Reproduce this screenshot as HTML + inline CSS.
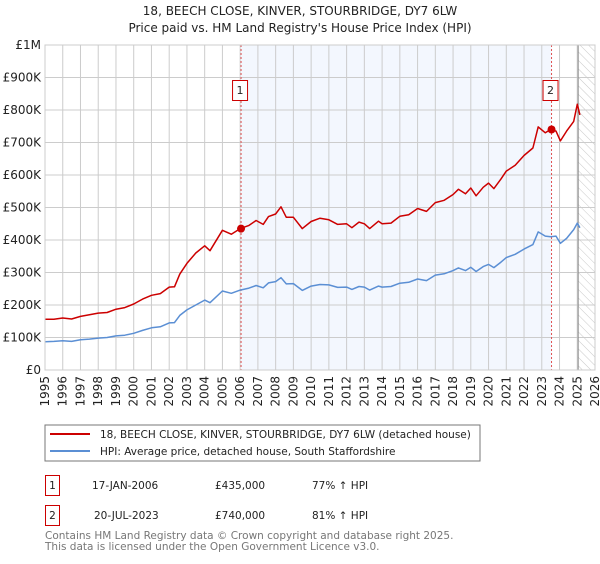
<!DOCTYPE html>
<html><head><meta charset="utf-8"><style>
body{margin:0;background:#fff;font-family:"DejaVu Sans","Liberation Sans",sans-serif;}
svg text{font-family:"DejaVu Sans","Liberation Sans",sans-serif;}
</style></head><body>
<svg id="chart" width="600" height="560" viewBox="0 0 600 560" xmlns="http://www.w3.org/2000/svg">
<defs><pattern id="hatch" width="6" height="6" patternUnits="userSpaceOnUse" patternTransform="rotate(-45)"><line x1="0" y1="0" x2="0" y2="6" stroke="#bbb" stroke-width="0.8"/></pattern></defs>
<text x="300" y="15" text-anchor="middle" font-size="12" fill="#222">18, BEECH CLOSE, KINVER, STOURBRIDGE, DY7 6LW</text>
<text x="300" y="32" text-anchor="middle" font-size="12" fill="#222">Price paid vs. HM Land Registry's House Price Index (HPI)</text>
<g id="plot"></g>
<rect x="45" y="425" width="435" height="36" fill="#fff" stroke="#777"/>
<line x1="50" y1="434" x2="90" y2="434" stroke="#cc0000" stroke-width="2"/>
<text x="100" y="438" font-size="10.5" fill="#222">18, BEECH CLOSE, KINVER, STOURBRIDGE, DY7 6LW (detached house)</text>
<line x1="50" y1="451" x2="90" y2="451" stroke="#5b8fd4" stroke-width="2"/>
<text x="100" y="455" font-size="10.5" fill="#222">HPI: Average price, detached house, South Staffordshire</text>
<g>
<rect x="45.5" y="475.5" width="14" height="20" fill="none" stroke="#cc0000"/>
<text x="52.5" y="489" text-anchor="middle" font-size="10.5" fill="#222">1</text>
<text x="92" y="489" font-size="10.5" fill="#222">17-JAN-2006</text>
<text x="215" y="489" font-size="10.5" fill="#222">£435,000</text>
<text x="312" y="489" font-size="10.5" fill="#222">77% ↑ HPI</text></g>
<g>
<rect x="45.5" y="505.5" width="14" height="20" fill="none" stroke="#cc0000"/>
<text x="52.5" y="519" text-anchor="middle" font-size="10.5" fill="#222">2</text>
<text x="94" y="519" font-size="10.5" fill="#222">20-JUL-2023</text>
<text x="215" y="519" font-size="10.5" fill="#222">£740,000</text>
<text x="312" y="519" font-size="10.5" fill="#222">81% ↑ HPI</text></g>
<text x="45" y="539" font-size="10.5" fill="#777">Contains HM Land Registry data © Crown copyright and database right 2025.</text>
<text x="45" y="550" font-size="10.5" fill="#777">This data is licensed under the Open Government Licence v3.0.</text>
</svg>
<script>
const years=[1995.0,1995.5,1996.0,1996.5,1997.0,1997.5,1998.0,1998.5,1999.0,1999.5,2000.0,2000.5,2001.0,2001.5,2002.0,2002.3,2002.6,2003.0,2003.5,2004.0,2004.3,2005.0,2005.5,2006.0,2006.5,2006.9,2007.3,2007.6,2008.0,2008.3,2008.6,2009.0,2009.5,2010.0,2010.5,2011.0,2011.5,2012.0,2012.3,2012.7,2013.0,2013.3,2013.8,2014.0,2014.5,2015.0,2015.5,2016.0,2016.5,2017.0,2017.5,2018.0,2018.3,2018.7,2019.0,2019.3,2019.7,2020.0,2020.3,2020.7,2021.0,2021.5,2022.0,2022.5,2022.8,2023.2,2023.5,2023.8,2024.05,2024.4,2024.8,2025.0,2025.15];
const hpiValues=[87,88,90,88,93,95,98,100,105,107,113,122,130,133,145,146,168,185,200,215,207,243,236,246,252,260,253,268,272,284,265,266,245,258,263,262,254,255,248,257,255,246,258,255,257,267,270,280,275,292,296,306,314,306,316,303,318,325,315,332,346,356,372,386,425,412,410,412,390,405,432,452,438];
const priceValues=[156,156,160,157,165,170,175,177,187,192,203,218,230,235,255,256,295,328,360,382,367,430,418,435,445,460,448,472,480,502,470,470,435,457,467,462,448,450,438,455,450,435,458,450,452,473,478,497,488,515,522,540,556,542,560,536,562,575,558,588,612,630,660,683,748,730,740,735,705,735,765,818,785];
const saleYears=[2006.05,2023.55];
const saleValues=[435,740];
const yTicks=[0,100,200,300,400,500,600,700,800,900,1000];
const yTickLabels=["£0","£100K","£200K","£300K","£400K","£500K","£600K","£700K","£800K","£900K","£1M"];
const xTicks=[1995,1996,1997,1998,1999,2000,2001,2002,2003,2004,2005,2006,2007,2008,2009,2010,2011,2012,2013,2014,2015,2016,2017,2018,2019,2020,2021,2022,2023,2024,2025,2026];
const X0=45,X1=595,Y0=370,Y1=45;
const xs=y=>X0+(y-1995)/(2026-1995)*(X1-X0);
const ys=v=>Y0-v/1000*(Y0-Y1);
const NS="http://www.w3.org/2000/svg";
const g=document.getElementById('plot');
function mk(t,a){const e=document.createElementNS(NS,t);for(const k in a)e.setAttribute(k,a[k]);g.appendChild(e);return e;}
let e;
e=mk('rect',{x:xs(saleYears[0]),y:Y1,width:xs(saleYears[1])-xs(saleYears[0]),height:Y0-Y1,fill:'#eef3fd',opacity:0.7});


e=mk('rect',{x:xs(2025.05),y:Y1,width:X1-xs(2025.05),height:Y0-Y1,fill:'url(#hatch)'});


xTicks.forEach((t,i)=>{
 e=mk('line',{x1:xs(t),x2:xs(t),y1:Y1,y2:Y0,stroke:'#ccc','stroke-width':1});
 
 
 e=mk('text',{x:0,y:0,'font-size':12,fill:'#222','text-anchor':'end',transform:`translate(${xs(t)+4},${Y0+6}) rotate(-90)`});
 e.textContent=t;
 
 
});
yTicks.forEach((t,i)=>{
 e=mk('line',{x1:X0,x2:X1,y1:ys(t),y2:ys(t),stroke:'#ccc','stroke-width':1});
 
 
 e=mk('text',{x:X0-4,y:ys(t)+4,'font-size':12,fill:'#222','text-anchor':'end'});
 e.textContent=yTickLabels[i];
 
 
});
e=mk('line',{x1:xs(2025.05),x2:xs(2025.05),y1:Y1,y2:Y0,stroke:'#888','stroke-width':1});


saleYears.forEach((s,i)=>{
 e=mk('line',{x1:xs(s),x2:xs(s),y1:Y1,y2:Y0,stroke:'#e05050','stroke-width':1,'stroke-dasharray':'2,2'});
 
 
 e=mk('rect',{x:xs(s)-8.5,y:80.5,width:15,height:20,fill:'#fff',stroke:'#cc0000'});
 
 
 e=mk('text',{x:xs(s)-1,y:94,'font-size':11,fill:'#222','text-anchor':'middle'});
 e.textContent=String(i+1);
 
 
});
const path=vals=>vals.map((v,i)=>(i?'L':'M')+xs(years[i]).toFixed(1)+','+ys(v).toFixed(1)).join('');
e=mk('path',{d:path(hpiValues),fill:'none',stroke:'#5b8fd4','stroke-width':1.5,'stroke-linejoin':'round'});


e=mk('path',{d:path(priceValues),fill:'none',stroke:'#cc0000','stroke-width':1.5,'stroke-linejoin':'round'});


saleYears.forEach((s,i)=>{
 e=mk('circle',{cx:xs(s),cy:ys(saleValues[i]),r:4,fill:'#cc0000'});
 
 
});
e=mk('rect',{x:X0,y:Y1,width:X1-X0,height:Y0-Y1,fill:'none',stroke:'#ccc'});


</script>
</body></html>
